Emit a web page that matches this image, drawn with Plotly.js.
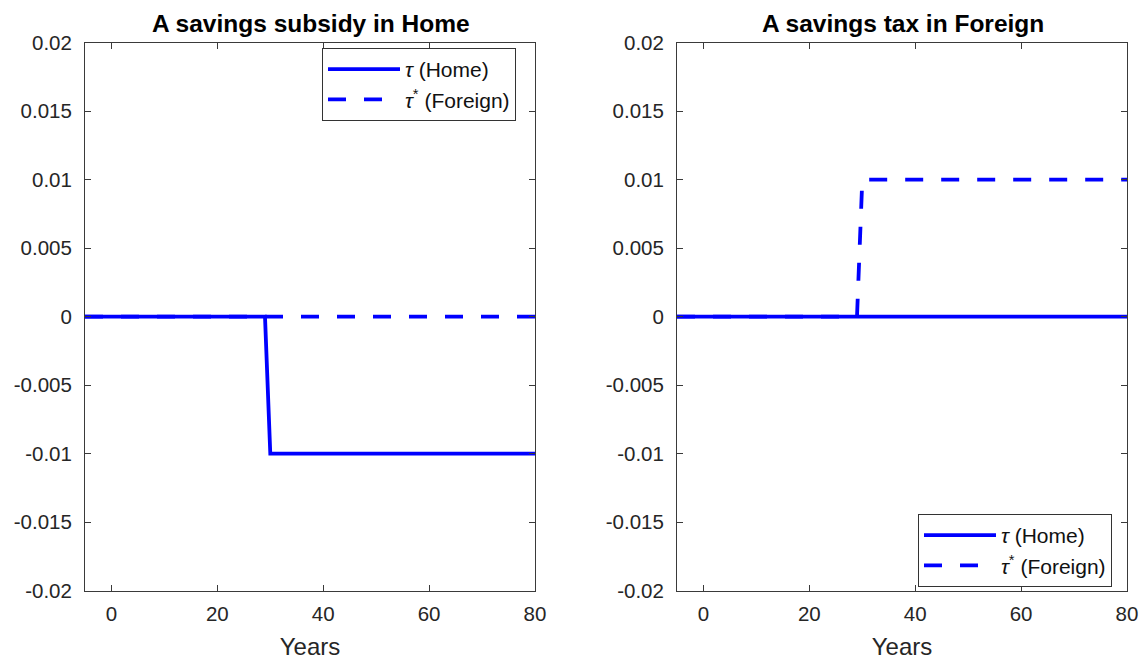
<!DOCTYPE html>
<html>
<head>
<meta charset="utf-8">
<script src="https://cdn.plot.ly/plotly-3.0.1.min.js"></script>
<style>html,body{margin:0;padding:0;background:#fff;}#chart{width:1139px;height:660px;}</style>
</head>
<body>
<div id="chart"></div>
<script>
// Breakpoints of the policy paths (years, value)
const subsidyYears = [-5, 29, 30, 80];
const subsidyHome = [0, 0, -0.01, -0.01];
const subsidyForeign = [0, 0, 0, 0];

const taxYears = [-5, 29, 30, 80];
const taxHome = [0, 0, 0, 0];
const taxForeign = [0, 0, 0.01, 0.01];

const xTicks = [0, 20, 40, 60, 80];
const yTicks = [0.02, 0.015, 0.01, 0.005, 0, -0.005, -0.01, -0.015, -0.02];
const yTickLabels = ['0.02', '0.015', '0.01', '0.005', '0', '-0.005', '-0.01', '-0.015', '-0.02'];

const titles = ['A savings subsidy in Home', 'A savings tax in Foreign'];
const nameHome = '<i>τ</i> (Home)';
const nameForeign = '<i>τ</i><sup>*</sup> (Foreign)';

const blue = '#0000ff';
const lw = 3.8;
const dash = '18px,18px';

const traces = [
  {x: subsidyYears, y: subsidyHome, name: nameHome, mode: 'lines', line: {color: blue, width: lw}, xaxis: 'x', yaxis: 'y', legend: 'legend'},
  {x: subsidyYears, y: subsidyForeign, name: nameForeign, mode: 'lines', line: {color: blue, width: lw, dash: dash}, xaxis: 'x', yaxis: 'y', legend: 'legend'},
  {x: taxYears, y: taxHome, name: nameHome, mode: 'lines', line: {color: blue, width: lw}, xaxis: 'x2', yaxis: 'y2', legend: 'legend2'},
  {x: taxYears, y: taxForeign, name: nameForeign, mode: 'lines', line: {color: blue, width: lw, dash: dash}, xaxis: 'x2', yaxis: 'y2', legend: 'legend2'}
];

const axisColor = '#3a3a3a';
const fontFam = '"Liberation Sans", Arial, Helvetica, sans-serif';
const tickFont = {family: fontFam, size: 20.5, color: '#262626'};

function xAxis(domain, anchor) {
  return {
    domain: domain, anchor: anchor, range: [-5, 80],
    tickvals: xTicks, ticktext: xTicks.map(String),
    ticks: 'inside', ticklen: 6, tickcolor: axisColor, tickwidth: 1,
    showline: true, linecolor: axisColor, linewidth: 1, mirror: 'ticks',
    showgrid: false, zeroline: false, tickfont: tickFont, ticklabelstandoff: 5,
    title: {text: 'Years', font: {family: fontFam, size: 24, color: '#262626'}, standoff: 16},
    automargin: false, fixedrange: true
  };
}
function yAxis(domain, anchor) {
  return {
    domain: domain, anchor: anchor, range: [-0.02, 0.02],
    tickvals: yTicks, ticktext: yTickLabels,
    ticks: 'inside', ticklen: 6, tickcolor: axisColor, tickwidth: 1,
    showline: true, linecolor: axisColor, linewidth: 1, mirror: 'ticks',
    showgrid: false, zeroline: false, tickfont: tickFont, ticklabelstandoff: 8,
    automargin: false, fixedrange: true
  };
}

const yDom = [1 - 590.7 / 660, 1 - 42.7 / 660];
const legendBase = {
  bgcolor: '#ffffff', bordercolor: '#333333', borderwidth: 1,
  font: {family: fontFam, size: 21, color: '#111'},
  itemwidth: 72, tracegroupgap: 0, traceorder: 'normal'
};

const layout = {
  width: 1139, height: 660,
  margin: {l: 0, r: 0, t: 0, b: 0},
  paper_bgcolor: '#ffffff', plot_bgcolor: '#ffffff',
  showlegend: true,
  xaxis: xAxis([85 / 1139, 535 / 1139], 'y'),
  yaxis: yAxis(yDom, 'x'),
  xaxis2: xAxis([677 / 1139, 1127 / 1139], 'y2'),
  yaxis2: yAxis(yDom, 'x2'),
  legend: Object.assign({}, legendBase, {x: 322 / 1139, y: 1 - 48 / 660, xanchor: 'left', yanchor: 'top'}),
  legend2: Object.assign({}, legendBase, {x: 1112 / 1139, y: 1 - 587 / 660, xanchor: 'right', yanchor: 'bottom'}),
  annotations: [
    {text: '<b>' + titles[0] + '</b>', xref: 'paper', yref: 'paper', x: 311 / 1139, y: 1 - 23 / 660, xanchor: 'center', yanchor: 'middle', showarrow: false, font: {family: fontFam, size: 24.5, color: '#000'}},
    {text: '<b>' + titles[1] + '</b>', xref: 'paper', yref: 'paper', x: 903 / 1139, y: 1 - 23 / 660, xanchor: 'center', yanchor: 'middle', showarrow: false, font: {family: fontFam, size: 24.5, color: '#000'}}
  ]
};

Plotly.newPlot('chart', traces, layout, {displayModeBar: false, staticPlot: true});
</script>
</body>
</html>
